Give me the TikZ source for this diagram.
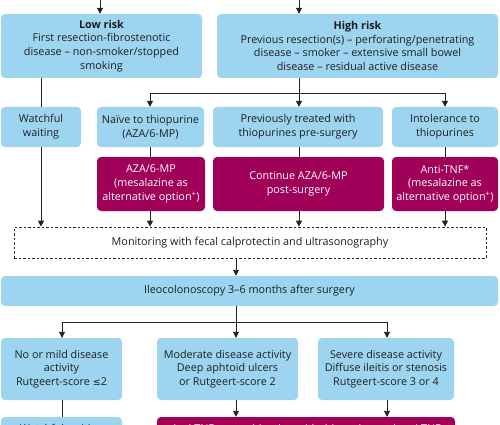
\documentclass[tikz,border=0pt]{standalone}
\usepackage{fontspec}
\setmainfont{Open Sans}
\newfontfamily\symfont{DejaVu Sans}
\usetikzlibrary{arrows.meta}
\definecolor{lblue}{RGB}{157,213,241}
\definecolor{mag}{RGB}{161,0,88}
\definecolor{txt}{RGB}{30,30,30}
\definecolor{ln}{RGB}{35,35,35}
\tikzset{
  basefont/.style={font=\fontsize{10.8}{13.8}\selectfont},
  bbox/.style={basefont, fill=lblue, rounded corners=4pt, align=center, text=txt, inner sep=0pt},
  mbox/.style={basefont, fill=mag, rounded corners=4pt, align=center, text=white, inner sep=0pt},
  dbox/.style={basefont, draw=ln, dash pattern=on 2.5pt off 2pt, line width=0.7pt, fill=white, align=center, text=txt, inner sep=0pt},
  arr/.style={draw=ln, line width=0.9pt, -{Triangle[width=6pt,length=6pt]}},
  lnk/.style={draw=ln, line width=0.9pt},
}
\begin{document}
\begin{tikzpicture}[x=1pt,y=-1pt]
\useasboundingbox (0,0) rectangle (500,425);
\clip (0,0) rectangle (500,425);

% row 1
\node[bbox, minimum width=201pt, minimum height=64pt] (low) at (101.5,46)
  {\textbf{Low risk}\\First resection-fibrostenotic\\disease – non-smoker/stopped\\smoking};
\node[bbox, minimum width=281pt, minimum height=64pt] (high) at (357.5,46)
  {\textbf{High risk}\\Previous resection(s) – perforating/penetrating\\disease – smoker – extensive small bowel\\disease – residual active disease};

% row 2
\node[bbox, minimum width=80pt, minimum height=40pt] (ww) at (41,127) {Watchful\\waiting};
\node[bbox, minimum width=107pt, minimum height=40pt] (naive) at (150.5,127) {Naïve to thiopurine\\(AZA/6-MP)};
\node[bbox, minimum width=170pt, minimum height=40pt] (prev) at (298,127) {Previously treated with\\thiopurines pre-surgery};
\node[bbox, minimum width=106pt, minimum height=40pt] (intol) at (445,127) {Intolerance to\\thiopurines};

% row 3
\node[mbox, minimum width=108pt, minimum height=54pt] (aza) at (151,184) {AZA/6-MP\\(mesalazine as\\alternative option\textsuperscript{+})};
\node[mbox, minimum width=171pt, minimum height=54pt] (cont) at (298.5,184) {Continue AZA/6-MP\\post-surgery};
\node[mbox, minimum width=106pt, minimum height=54pt] (anti) at (445,184) {Anti-TNF*\\(mesalazine as\\alternative option\textsuperscript{+})};

% monitoring
\node[dbox, minimum width=472pt, minimum height=31pt] (mon) at (250,242.5) {Monitoring with fecal calprotectin and ultrasonography};

% ileocolonoscopy
\node[bbox, minimum width=497pt, minimum height=30pt] (ileo) at (249.5,291) {Ileocolonoscopy 3–6 months after surgery};

% row 5
\node[bbox, minimum width=121pt, minimum height=62pt] (mild) at (61.5,369) {No or mild disease\\activity\\Rutgeert-score {\symfont\fontsize{9.6}{13.8}\selectfont ≤}2};
\node[bbox, minimum width=141pt, minimum height=62pt] (mod) at (227.5,369) {Moderate disease activity\\Deep aphtoid ulcers\\or Rutgeert-score 2};
\node[bbox, minimum width=136pt, minimum height=62pt] (sev) at (386,369) {Severe disease activity\\Diffuse ileitis or stenosis\\Rutgeert-score 3 or 4};

% row 6 (cut off)
\node[bbox, minimum width=121pt, minimum height=26pt] (ww2) at (61.5,430) {Watchful waiting};
\node[mbox, minimum width=298pt, minimum height=26pt] (treat) at (306,430) {Anti-TNF or combination with thiopurine and anti-TNF};

% helper coordinates
\coordinate (t1) at (100,-10);
\coordinate (t2) at (299,-10);
\coordinate (x41) at (41,0);
\coordinate (x150) at (150,0);
\coordinate (x299) at (299,0);
\coordinate (x445) at (445,0);
\coordinate (x236) at (236,0);
\coordinate (x62) at (62,0);
\coordinate (x387) at (387,0);
\coordinate (hb) at (0,93);
\coordinate (ib) at (0,322);

% connectors
\draw[arr] (t1) -- (t1 |- low.north);
\draw[arr] (t2) -- (t2 |- high.north);

\draw[lnk] (low.south -| x41) -- (ww.north -| x41);
\draw[arr] (ww.south -| x41) -- (mon.north -| x41);

\draw[lnk] (high.south -| x299) -- (hb -| x299);
\draw[lnk] (hb -| x150) -- (hb -| x445);
\draw[arr] (hb -| x150) -- (naive.north -| x150);
\draw[arr] (hb -| x299) -- (prev.north -| x299);
\draw[arr] (hb -| x445) -- (intol.north -| x445);

\draw[lnk] (naive.south -| x150) -- (aza.north -| x150);
\draw[lnk] (prev.south -| x299) -- (cont.north -| x299);
\draw[lnk] (intol.south -| x445) -- (anti.north -| x445);

\draw[arr] (aza.south -| x150) -- (mon.north -| x150);
\draw[arr] (cont.south -| x299) -- (mon.north -| x299);
\draw[arr] (anti.south -| x445) -- (mon.north -| x445);

\draw[arr] (mon.south -| x236) -- (ileo.north -| x236);

\draw[lnk] (ileo.south -| x236) -- (ib -| x236);
\draw[lnk] (ib -| x62) -- (ib -| x387);
\draw[arr] (ib -| x62) -- (mild.north -| x62);
\draw[arr] (ib -| x236) -- (mod.north -| x236);
\draw[arr] (ib -| x387) -- (sev.north -| x387);

\draw[lnk] (mild.south -| x62) -- (ww2.north -| x62);
\draw[arr] (mod.south -| x236) -- (treat.north -| x236);
\draw[arr] (sev.south -| x387) -- (treat.north -| x387);
\end{tikzpicture}
\end{document}
